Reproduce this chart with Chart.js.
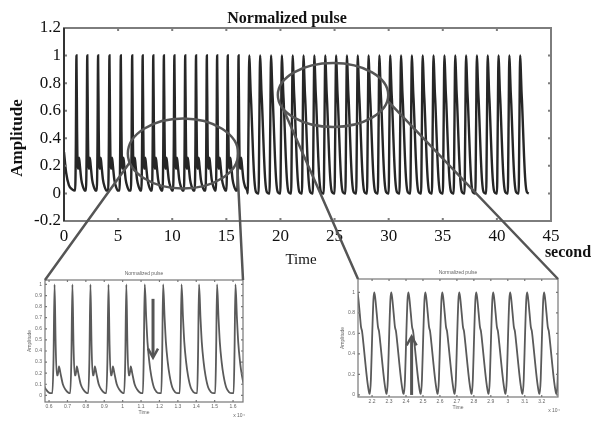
<!DOCTYPE html>
<html>
<head>
<meta charset="utf-8">
<title>Normalized pulse</title>
<script src="https://cdn.jsdelivr.net/npm/chart.js@4.4.1/dist/chart.umd.min.js"></script>
<style>
  body { margin: 0; background: #fff; }
  #wrap { position: relative; width: 593px; height: 421px; overflow: hidden; }
  canvas { position: absolute; }
  #overlay { pointer-events: none; }
</style>
</head>
<body>
<div id="wrap">
  <canvas id="mainChart" width="593" height="275" style="left:0;top:0"></canvas>
  <canvas id="leftInset" width="240" height="159" style="left:20px;top:262px"></canvas>
  <canvas id="rightInset" width="258" height="159" style="left:335px;top:262px"></canvas>
  <canvas id="overlay" width="593" height="421" style="left:0;top:0"></canvas>
</div>
<script>
// tick labels
const mainXTicks = [0, 5, 10, 15, 20, 25, 30, 35, 40, 45];
const mainYTicks = [-0.2, 0, 0.2, 0.4, 0.6, 0.8, 1, 1.2];
const leftXTicks = [0.6, 0.7, 0.8, 0.9, 1, 1.1, 1.2, 1.3, 1.4, 1.5, 1.6];
const leftYTicks = [0, 0.1, 0.2, 0.3, 0.4, 0.5, 0.6, 0.7, 0.8, 0.9, 1];
const rightXTicks = [2.2, 2.3, 2.4, 2.5, 2.6, 2.7, 2.8, 2.9, 3, 3.1, 3.2];
const rightYTicks = [0, 0.2, 0.4, 0.6, 0.8, 1];

const beatPeaks = [1.15, 2.15, 3.15, 4.2, 5.25, 6.3, 7.27, 8.25, 9.23, 10.2,
  11.2, 12.2, 13.2, 14.15, 15.13, 16.13, 17.12, 18.12, 19.13, 20.13,
  21.13, 22.13, 23.13, 24.14, 25.14, 26.14, 27.14, 28.14, 29.14, 30.14,
  31.14, 32.14, 33.14, 34.14, 35.15, 36.15, 37.15, 38.15, 39.15, 40.15,
  41.15, 42.15];
// wave form of each beat as seen in the main plot (a = sharp with dicrotic bump, n = narrow)
const mainBeatShapes = ['a', 'a', 'a', 'a', 'a', 'a', 'a', 'a', 'a', 'a',
  'a', 'a', 'a', 'a', 'a', 'a', 'n', 'n', 'n', 'n',
  'n', 'n', 'n', 'n', 'n', 'n', 'n', 'n', 'n', 'n',
  'n', 'n', 'n', 'n', 'n', 'n', 'n', 'n', 'n', 'n',
  'n', 'n'];
// wave form of each beat as seen in the zoomed insets (m = transition, b = slow fall)
const insetBeatShapes = ['a', 'a', 'a', 'a', 'a', 'a', 'a', 'a', 'a', 'a',
  'm', 'm', 'm', 'm', 'm', 'm', 'b', 'b', 'b', 'b',
  'b', 'b', 'b', 'b', 'b', 'b', 'b', 'b', 'b', 'b',
  'b', 'b', 'b', 'b', 'b', 'b', 'b', 'b', 'b', 'b',
  'b', 'b'];

// one beat, [seconds from peak, amplitude]
const shapeA = [[-0.12, 0.02], [-0.06, 0.3], [0, 1], [0.06, 0.45], [0.12, 0.18], [0.17, 0.18],
  [0.24, 0.26], [0.32, 0.2], [0.45, 0.1], [0.6, 0.05], [0.8, 0.02]];
const shapeN = [[-0.14, 0.0], [-0.07, 0.5], [0, 1], [0.05, 0.92], [0.12, 0.75], [0.18, 0.65],
  [0.26, 0.48], [0.36, 0.27], [0.48, 0.09], [0.62, 0.01], [0.8, 0.0]];
const shapeM = [[-0.1, 0.02], [-0.05, 0.4], [0, 1], [0.08, 0.7], [0.15, 0.48], [0.25, 0.3],
  [0.35, 0.18], [0.5, 0.07], [0.65, 0.03], [0.8, 0.02]];
const shapeB = [[-0.26, 0.01], [-0.2, 0.15], [-0.12, 0.6], [-0.05, 0.93], [0, 1], [0.06, 0.94],
  [0.14, 0.8], [0.22, 0.66], [0.28, 0.62], [0.36, 0.5], [0.48, 0.3], [0.6, 0.12], [0.7, 0.02]];
// start of the record before the first beat
const leadIn = [[0, 0.3], [0.2, 0.15], [0.45, 0.06], [0.75, 0.03]];

// zoomed regions (main plot units)
const zoomLeft = { cx: 11.0, cy: 0.29, rx: 5.1, ry: 0.254 };
const zoomRight = { cx: 24.86, cy: 0.714, rx: 5.1, ry: 0.232 };

const shapes = { a: shapeA, n: shapeN, m: shapeM, b: shapeB };
function buildPulse(kinds) {
    const pts = leadIn.map(([t, v]) => ({ x: t, y: v }));
    beatPeaks.forEach((p, i) => {
        const next = i + 1 < beatPeaks.length ? beatPeaks[i + 1] + shapes[kinds[i + 1]][0][0] : Infinity;
        shapes[kinds[i]].forEach(([dt, v]) => {
            if (p + dt < next - 0.01) pts.push({ x: p + dt, y: v });
        });
    });
    return pts;
}
const pulse = buildPulse(mainBeatShapes);
// insets are in samples x 10^4 (1 kHz)
const pulseSamples = buildPulse(insetBeatShapes).map(pt => ({ x: pt.x / 10, y: pt.y }));

const serif = "'Liberation Serif', 'Times New Roman', serif";
const sans = "'Liberation Sans', Arial, sans-serif";

function fixedTicks(list) {
    return scale => { scale.ticks = list.map(v => ({ value: v })); };
}

function innerTicks(ctx, chart, len) {
    const a = chart.chartArea, sx = chart.scales.x, sy = chart.scales.y;
    ctx.beginPath();
    sx.ticks.forEach(t => {
        const px = sx.getPixelForValue(t.value);
        ctx.moveTo(px, a.top); ctx.lineTo(px, a.top + len);
        ctx.moveTo(px, a.bottom); ctx.lineTo(px, a.bottom - len);
    });
    sy.ticks.forEach(t => {
        const py = sy.getPixelForValue(t.value);
        ctx.moveTo(a.left, py); ctx.lineTo(a.left + len, py);
        ctx.moveTo(a.right, py); ctx.lineTo(a.right - len, py);
    });
    ctx.stroke();
}

const mainFrame = {
    id: 'mainFrame',
    afterDraw(chart) {
        const { ctx, chartArea: a } = chart;
        ctx.save();
        ctx.strokeStyle = '#7d7d7d';
        ctx.lineWidth = 2;
        ctx.strokeRect(a.left, a.top, a.right - a.left, a.bottom - a.top);
        innerTicks(ctx, chart, 3);
        ctx.strokeStyle = '#333';
        ctx.beginPath(); ctx.moveTo(a.left, a.top); ctx.lineTo(a.left, a.bottom); ctx.stroke();

        ctx.fillStyle = '#111';
        ctx.textAlign = 'center';
        ctx.textBaseline = 'middle';
        ctx.font = 'bold 16px ' + serif;
        ctx.fillText('Normalized pulse', 287, 19);
        ctx.font = '15px ' + serif;
        ctx.fillText('Time', 301, 260);
        ctx.font = 'bold 16px ' + serif;
        ctx.fillText('second', 568, 253);
        ctx.save();
        ctx.translate(18, 138);
        ctx.rotate(-Math.PI / 2);
        ctx.font = 'bold 17px ' + serif;
        ctx.fillText('Amplitude', 0, 0);
        ctx.restore();
        ctx.restore();
    }
};

const insetFrame = {
    id: 'insetFrame',
    afterDraw(chart, args, opts) {
        const { ctx, chartArea: a } = chart;
        const sx = chart.scales.x, sy = chart.scales.y;
        ctx.save();
        ctx.strokeStyle = '#777';
        ctx.lineWidth = 1.2;
        ctx.strokeRect(a.left, a.top, a.right - a.left, a.bottom - a.top);
        innerTicks(ctx, chart, 2);

        // arrow
        const ax = sx.getPixelForValue(opts.arrow.x);
        const y0 = sy.getPixelForValue(opts.arrow.from);
        const y1 = sy.getPixelForValue(opts.arrow.to);
        const dir = y1 > y0 ? 1 : -1;
        ctx.strokeStyle = '#555';
        ctx.lineWidth = 3;
        ctx.beginPath(); ctx.moveTo(ax, y0); ctx.lineTo(ax, y1 - dir * 2); ctx.stroke();
        ctx.beginPath();
        ctx.moveTo(ax - 5, y1 - dir * 9); ctx.lineTo(ax, y1); ctx.lineTo(ax + 5, y1 - dir * 9);
        ctx.lineWidth = 2.5;
        ctx.stroke();

        ctx.fillStyle = '#666';
        ctx.textAlign = 'center';
        ctx.textBaseline = 'middle';
        ctx.font = '5px ' + sans;
        const cx = (a.left + a.right) / 2;
        ctx.fillText('Normalized pulse', cx, a.top - 6);
        ctx.fillText('Time', cx, a.bottom + 11);
        ctx.fillText('x 10\u2074', a.right - 4, a.bottom + 14);
        ctx.save();
        ctx.translate(a.left - opts.labelGap, (a.top + a.bottom) / 2);
        ctx.rotate(-Math.PI / 2);
        ctx.fillText('Amplitude', 0, 0);
        ctx.restore();
        ctx.restore();
    }
};

const mainChart = new Chart(document.getElementById('mainChart'), {
    type: 'line',
    data: {
        datasets: [{
            data: pulse,
            borderColor: '#262626',
            borderWidth: 2.4,
            pointRadius: 0,
            cubicInterpolationMode: 'monotone'
        }]
    },
    options: {
        responsive: false,
        animation: false,
        layout: { padding: { left: 0, top: 28, right: 42, bottom: 0 } },
        plugins: { legend: { display: false }, tooltip: { enabled: false } },
        scales: {
            x: {
                type: 'linear', min: 0, max: 45,
                afterBuildTicks: fixedTicks(mainXTicks),
                afterFit: s => { s.height = 54; },
                grid: { display: false, drawTicks: false },
                border: { display: false },
                ticks: { padding: 5, color: '#111', font: { family: serif, size: 17 }, maxRotation: 0, autoSkip: false, callback: v => String(v) }
            },
            y: {
                min: -0.2, max: 1.2,
                afterBuildTicks: fixedTicks(mainYTicks),
                afterFit: s => { s.width = 64; },
                grid: { display: false, drawTicks: false },
                border: { display: false },
                ticks: { padding: 3, color: '#111', font: { family: serif, size: 17 }, autoSkip: false, callback: v => String(v) }
            }
        }
    },
    plugins: [mainFrame]
});

function insetChart(id, xr, yr, xt, yt, pad, yWidth, xHeight, arrow, labelGap) {
    return new Chart(document.getElementById(id), {
        type: 'line',
        data: {
            datasets: [{
                data: pulseSamples,
                borderColor: '#5a5a5a',
                borderWidth: 1.8,
                pointRadius: 0,
                cubicInterpolationMode: 'monotone'
            }]
        },
        options: {
            responsive: false,
            animation: false,
            layout: { padding: pad },
            plugins: { legend: { display: false }, tooltip: { enabled: false }, insetFrame: { arrow, labelGap } },
            scales: {
                x: {
                    type: 'linear', min: xr[0], max: xr[1],
                    afterBuildTicks: fixedTicks(xt),
                    afterFit: s => { s.height = xHeight; },
                    grid: { display: false, drawTicks: false }, border: { display: false },
                    ticks: { padding: 2, color: '#666', font: { family: sans, size: 5 }, maxRotation: 0, autoSkip: false, callback: v => String(v) }
                },
                y: {
                    min: yr[0], max: yr[1],
                    afterBuildTicks: fixedTicks(yt),
                    afterFit: s => { s.width = yWidth; },
                    grid: { display: false, drawTicks: false }, border: { display: false },
                    ticks: { padding: 3, color: '#666', font: { family: sans, size: 5 }, autoSkip: false, callback: v => String(v) }
                }
            }
        },
        plugins: [insetFrame]
    });
}

const leftChart = insetChart('leftInset', [0.578, 1.654], [-0.06, 1.04], leftXTicks, leftYTicks,
    { left: 0, top: 18, right: 17, bottom: 0 }, 25, 19, { x: 1.165, from: 0.87, to: 0.34 }, 15);
const rightChart = insetChart('rightInset', [2.117, 3.296], [-0.02, 1.13], rightXTicks, rightYTicks,
    { left: 0, top: 17, right: 35, bottom: 0 }, 23, 24, { x: 2.433, from: 0.0, to: 0.57 }, 15);

// ellipses on the main plot and the lines down to the insets
const ov = document.getElementById('overlay').getContext('2d');
function ellipsePx(e) {
    const sx = mainChart.scales.x, sy = mainChart.scales.y;
    const cx = sx.getPixelForValue(e.cx), cy = sy.getPixelForValue(e.cy);
    return { cx, cy, rx: sx.getPixelForValue(e.cx + e.rx) - cx, ry: cy - sy.getPixelForValue(e.cy + e.ry) };
}
function onEllipse(p, deg) {
    const r = deg * Math.PI / 180;
    return [p.cx + p.rx * Math.cos(r), p.cy + p.ry * Math.sin(r)];
}
function insetCorner(chart, side) {
    const c = chart.canvas, a = chart.chartArea;
    return [c.offsetLeft + (side === 'left' ? a.left : a.right), c.offsetTop + a.top];
}
ov.strokeStyle = '#555';
ov.lineWidth = 2.5;
[[zoomLeft, leftChart, 165, 12], [zoomRight, rightChart, 155, 10]].forEach(([z, ch, a1, a2]) => {
    const p = ellipsePx(z);
    ov.beginPath();
    ov.ellipse(p.cx, p.cy, p.rx, p.ry, 0, 0, Math.PI * 2);
    ov.stroke();
    const s1 = onEllipse(p, a1), e1 = insetCorner(ch, 'left');
    const s2 = onEllipse(p, a2), e2 = insetCorner(ch, 'right');
    ov.beginPath();
    ov.moveTo(s1[0], s1[1]); ov.lineTo(e1[0], e1[1]);
    ov.moveTo(s2[0], s2[1]); ov.lineTo(e2[0], e2[1]);
    ov.stroke();
});
</script>
</body>
</html>
